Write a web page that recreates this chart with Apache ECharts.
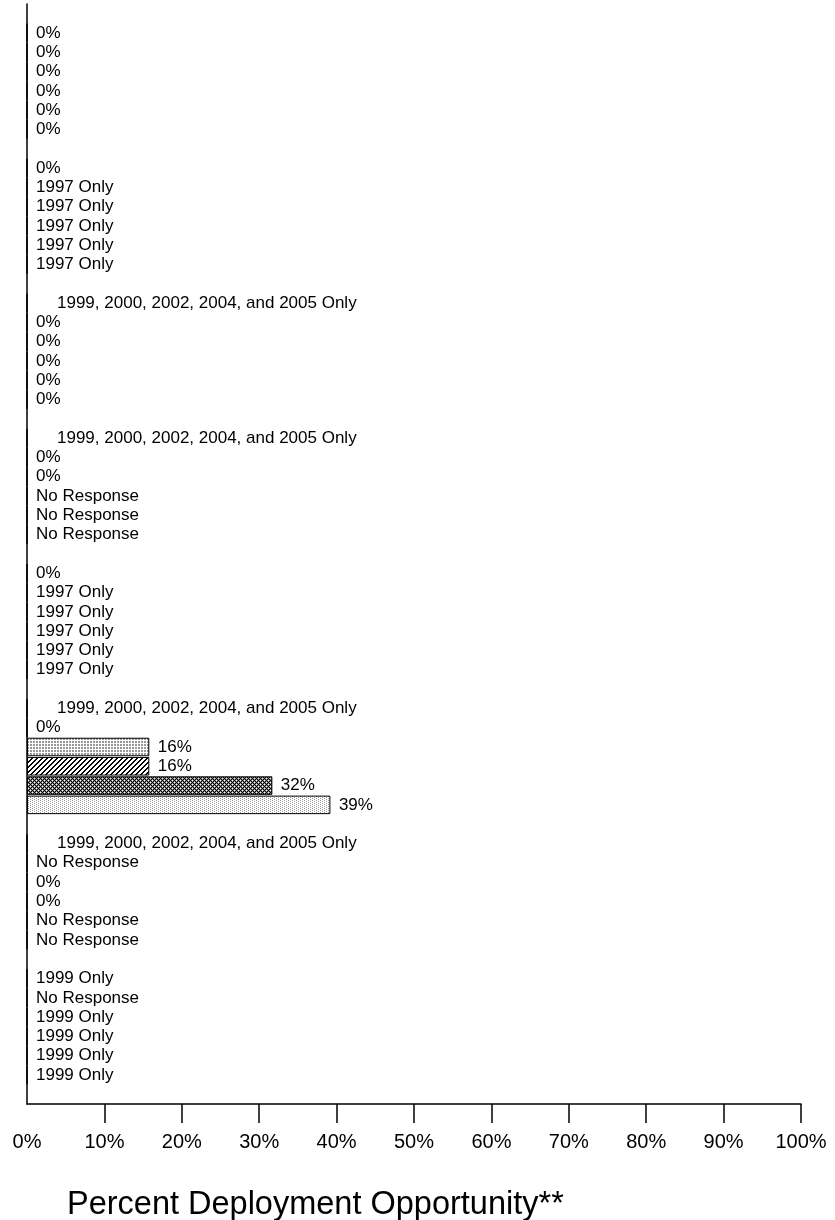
<!DOCTYPE html>
<html>
<head>
<meta charset="utf-8">
<script src="https://cdn.jsdelivr.net/npm/echarts@6/dist/echarts.min.js"></script>
<style>
  html, body { margin: 0; padding: 0; background: #fff; }
  #main { width: 835px; height: 1220px; }
</style>
</head>
<body>
<div id="main"></div>
<script>
// each group = 6 rows (one per survey series), read top to bottom
const rowText = [
  ["0%", "0%", "0%", "0%", "0%", "0%"],
  ["0%", "1997 Only", "1997 Only", "1997 Only", "1997 Only", "1997 Only"],
  ["1999, 2000, 2002, 2004, and 2005 Only", "0%", "0%", "0%", "0%", "0%"],
  ["1999, 2000, 2002, 2004, and 2005 Only", "0%", "0%", "No Response", "No Response", "No Response"],
  ["0%", "1997 Only", "1997 Only", "1997 Only", "1997 Only", "1997 Only"],
  ["1999, 2000, 2002, 2004, and 2005 Only", "0%", "16%", "16%", "32%", "39%"],
  ["1999, 2000, 2002, 2004, and 2005 Only", "No Response", "0%", "0%", "No Response", "No Response"],
  ["1999 Only", "No Response", "1999 Only", "1999 Only", "1999 Only", "1999 Only"]
];
const rowValues = [
  [0, 0, 0, 0, 0, 0],
  [0, 0, 0, 0, 0, 0],
  [0, 0, 0, 0, 0, 0],
  [0, 0, 0, 0, 0, 0],
  [0, 0, 0, 0, 0, 0],
  [0, 0, 15.8, 15.8, 31.7, 39.2],
  [0, 0, 0, 0, 0, 0],
  [0, 0, 0, 0, 0, 0]
];
const xTickValues = [10, 20, 30, 40, 50, 60, 70, 80, 90, 100];
const xLabelValues = [0, 10, 20, 30, 40, 50, 60, 70, 80, 90, 100];

// small canvas tiles used as bar fills
function tile(w, h, draw) {
  const c = document.createElement("canvas");
  c.width = w;
  c.height = h;
  const ctx = c.getContext("2d");
  ctx.fillStyle = "#fff";
  ctx.fillRect(0, 0, w, h);
  draw(ctx);
  return { image: c, repeat: "repeat" };
}
const gridFill = tile(3, 3, ctx => {
  ctx.fillStyle = "#999";
  ctx.fillRect(0, 0, 2, 2);
});
const hatchFill = tile(5, 5, ctx => {
  ctx.fillStyle = "#000";
  for (let i = 0; i < 5; i++) {
    ctx.fillRect(i, 4 - i, 1, 1);
    ctx.fillRect((i + 1) % 5, 4 - i, 1, 1);
  }
});
const crossFill = tile(4, 4, ctx => {
  ctx.fillStyle = "#000";
  ctx.fillRect(0, 0, 4, 4);
  ctx.fillStyle = "#888";
  [[1, 0], [3, 0], [0, 1], [0, 3], [1, 2], [3, 2], [2, 1], [2, 3]].forEach(p => ctx.fillRect(p[0], p[1], 1, 1));
  ctx.fillStyle = "#fff";
  ctx.fillRect(0, 0, 1, 1);
  ctx.fillRect(2, 2, 1, 1);
});
const dotFill = tile(4, 2, ctx => {
  ctx.fillStyle = "#999";
  ctx.fillRect(0, 0, 1, 1);
  ctx.fillRect(2, 1, 1, 1);
});
const rowFills = ["#fff", "#fff", gridFill, hatchFill, crossFill, dotFill];

// one slot per row, a blank slot between groups and at both ends
const categories = [];
const barData = [];
function blank(name) {
  categories.push(name);
  barData.push({ value: "-", label: { show: false } });
}
blank("top");
rowText.forEach((rows, g) => {
  rows.forEach((txt, r) => {
    categories.push("g" + (g + 1) + "r" + (r + 1));
    barData.push({
      value: rowValues[g][r],
      itemStyle: { color: rowFills[r] },
      label: {
        formatter: txt,
        distance: txt.indexOf(",") > -1 ? 29.5 : 8.5
      }
    });
  });
  if (g < rowText.length - 1) blank("gap" + (g + 1));
});
blank("bottom");

const font = "Liberation Sans, Arial, sans-serif";
const option = {
  animation: false,
  title: {
    text: "Percent Deployment Opportunity**",
    left: 67,
    top: 1189,
    padding: 0,
    textStyle: { fontFamily: font, fontSize: 32.5, fontWeight: "normal", color: "#000" }
  },
  grid: { left: 27, right: 34, top: 4, bottom: 116, containLabel: false },
  xAxis: {
    type: "value",
    min: 0,
    max: 100,
    interval: 10,
    axisLine: { show: true, lineStyle: { color: "#000", width: 1.5 } },
    axisTick: { show: true, length: 19, customValues: xTickValues, lineStyle: { color: "#000", width: 1.5 } },
    axisLabel: {
      customValues: xLabelValues,
      formatter: "{value}%",
      margin: 28,
      fontFamily: font,
      fontSize: 20,
      color: "#000"
    },
    splitLine: { show: false }
  },
  yAxis: {
    type: "category",
    inverse: true,
    data: categories,
    axisLine: { show: true, lineStyle: { color: "#000", width: 1.5 } },
    axisTick: { show: false },
    axisLabel: { show: false }
  },
  series: [
    {
      type: "bar",
      data: barData,
      barCategoryGap: "4%",
      itemStyle: { borderColor: "#000", borderWidth: 1 },
      label: {
        show: true,
        position: "right",
        fontFamily: font,
        fontSize: 17,
        color: "#000"
      }
    }
  ]
};

const myChart = echarts.init(document.getElementById("main"));
myChart.setOption(option);
</script>
</body>
</html>
